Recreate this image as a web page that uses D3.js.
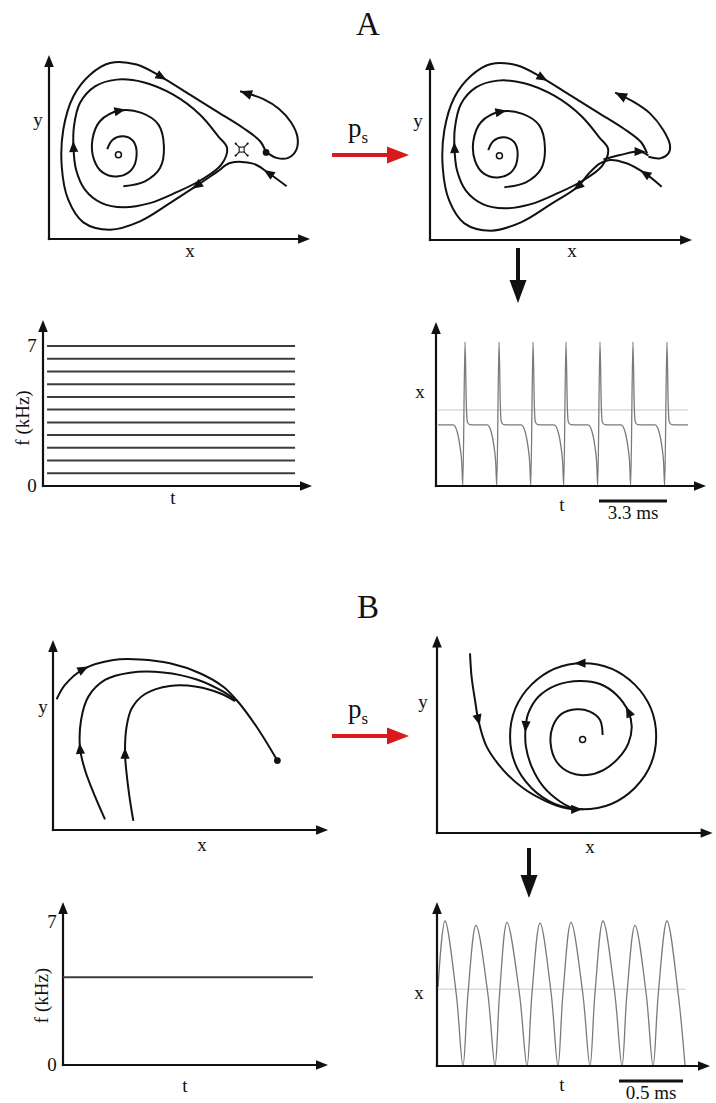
<!DOCTYPE html>
<html>
<head>
<meta charset="utf-8">
<script src="https://cdn.jsdelivr.net/npm/d3@7/dist/d3.min.js"></script>
<style>
  html, body { margin: 0; padding: 0; background: #fff; }
  svg { display: block; }
  text { font-family: "Liberation Serif", "Times New Roman", "DejaVu Serif", serif; fill: #111; }
</style>
</head>
<body>
<svg id="fig" width="716" height="1103" font-family="Liberation Serif, Times New Roman, serif"></svg>
<script>
// ================= Phase-plane trajectories (state-space units) =================
// Panel A: saddle-node on an invariant circle
const focusA  = [2.67, 3.24];
const saddleA = [7.41, 3.44];
const nodeA   = [8.35, 3.33];
const spiralA = [[2.24,3.46],[2.45,3.82],[2.86,3.95],[3.24,3.76],[3.37,3.24],[3.18,2.67],[2.67,2.41],
                 [2.06,2.56],[1.73,3.05],[1.67,3.82],[1.96,4.53],[2.73,4.94],[3.56,4.85],[4.21,4.40],
                 [4.42,3.56],[4.27,2.73],[3.69,2.22],[2.86,2.03]];
const loopA   = [[6.85,3.50],[6.62,2.85],[5.85,2.27],[4.91,1.80],[3.88,1.38],[2.86,1.22],[2.03,1.38],
                 [1.38,1.90],[1.04,2.67],[0.94,3.56],[0.96,4.33],[1.19,5.23],[1.77,5.87],[2.60,6.13],
                 [3.63,6.03],[4.78,5.55],[5.81,4.78],[6.51,3.95]];
const stableInA  = [[9.14,2.03],[8.44,2.54],[7.85,2.90],[6.96,2.92],[6.46,2.58]];
const outerBodyA = [[5.68,2.05],[4.65,1.38],[3.50,0.68],[2.35,0.36],[1.32,0.64],[0.74,1.51],[0.49,2.79],
                    [0.55,4.21],[0.94,5.49],[1.58,6.32],[2.35,6.77],[3.37,6.71],[4.33,6.23],[5.42,5.55],
                    [6.45,4.91],[7.47,4.27],[8.12,3.76],[8.35,3.33]];
const hookA   = [[8.37,3.33],[8.75,3.12],[9.20,3.12],[9.52,3.45],[9.55,3.95],[9.30,4.50],[8.85,5.00],
                 [8.25,5.38],[7.35,5.68]];
// after the bifurcation (p_s applied): the fixed points are gone
const stableInA2 = [[8.91,2.05],[8.27,2.56],[7.56,2.95],[6.92,3.08],[6.54,2.95],[6.10,2.55]];
const ghostA2    = [[6.67,3.10],[7.31,3.27],[8.08,3.40],[8.40,3.25]];
const hookA2     = [[8.40,3.20],[8.85,3.14],[9.17,3.33],[9.23,3.65],[8.97,4.23],[8.46,4.87],[7.82,5.32],
                    [7.12,5.67]];

// Panel B: stable node -> Hopf limit cycle
const nodeB   = [8.63, 2.67];
const trajB1  = [[0.14,5.03],[0.46,5.58],[1.17,6.19],[2.32,6.54],[3.35,6.56],[4.50,6.41],[5.65,6.03],
                 [6.55,5.51],[7.06,5.00],[7.83,3.97],[8.63,2.67]];
const trajB2  = [[2.00,0.41],[1.62,1.28],[1.23,2.31],[1.04,3.14],[1.08,4.23],[1.36,5.13],[2.00,5.77],
                 [2.96,6.05],[4.24,6.06],[5.53,5.79],[6.55,5.32],[7.06,4.97]];
const trajB3  = [[3.09,0.35],[2.96,1.15],[2.83,2.18],[2.77,2.95],[2.83,3.97],[3.03,4.68],[3.54,5.23],
                 [4.50,5.54],[5.53,5.51],[6.42,5.26],[7.00,4.96]];
const focusB  = [5.60, 3.60];
const cycleB  = { center: [5.62, 3.72], radius: 2.81 };
const cycleArrowsB = [[5.50, 6.53, -1, 0], [5.37, 0.91, 1, 0]];
const spiralB = [[6.37,3.77],[6.27,4.35],[5.88,4.67],[5.37,4.76],[4.79,4.58],[4.45,4.09],[4.37,3.45],
                 [4.60,2.74],[5.12,2.32],[5.76,2.23],[6.40,2.42],[6.97,2.87],[7.36,3.45],[7.49,4.09],
                 [7.36,4.67],[6.91,5.31],[6.27,5.73],[5.50,5.85],[4.60,5.69],[3.90,5.24],[3.51,4.60],
                 [3.41,4.09],[3.42,3.32],[3.64,2.55],[4.09,1.78],[4.73,1.21],[5.24,0.95],[5.62,0.91]];
const inflowB = [[1.27,6.91],[1.33,6.01],[1.46,5.12],[1.59,4.35],[1.91,3.32],[2.55,2.42],[3.32,1.72],
                 [4.22,1.21],[4.99,0.95],[5.50,0.91]];

// ================= Frequency content (kHz) =================
const freqTicks = [0, 7];
const freqA = [0.64, 1.27, 1.91, 2.55, 3.18, 3.82, 4.45, 5.09, 5.73, 6.36, 7.0];
const freqB = [4.3];

// ================= Time courses of x =================
// A: spiking (ms); one spike waveform as [offset from peak, x] and the peak times
const spikeTimesA = [1.41, 3.06, 4.71, 6.31, 7.96, 9.56, 11.21];
const spikeShapeA = [[-0.58,0.424],[-0.37,0.37],[-0.24,0.27],[-0.16,0.16],[-0.11,0.0],[0,1.0],
                     [0.065,0.55],[0.11,0.447],[0.23,0.426],[0.5,0.424]];
const traceSpanA = [0.1, 12.23];
const restA = 0.424, thresholdA = 0.528;
// B: oscillation (ms), samples [t, x] through peaks, flanks and troughs
const oscB = [[0.008,0.545],[0.0625,1.0],[0.150,0.5],[0.203,0],[0.242,0.5],[0.305,0.97],
              [0.397,0.5],[0.453,0],[0.489,0.5],[0.547,0.99],[0.644,0.5],[0.703,0],[0.742,0.5],
              [0.805,0.985],[0.892,0.5],[0.945,0],[0.984,0.5],[1.047,0.99],[1.139,0.5],[1.195,0],
              [1.234,0.5],[1.297,1.0],[1.389,0.5],[1.445,0],[1.484,0.5],[1.547,0.97],[1.634,0.5],
              [1.688,0],[1.729,0.5],[1.797,1.0],[1.884,0.5],[1.938,0]];
const thresholdB = 0.53;
const scaleBarA = { ms: 3.3, label: "3.3 ms" };
const scaleBarB = { ms: 0.5, label: "0.5 ms" };

// ================= drawing =================
const svg = d3.select("#fig");
const INK = "#111";

function head(g, tip, ang, len, hw, fill) {
  const c = Math.cos(ang), s = Math.sin(ang);
  const bx = tip[0] - c * len, by = tip[1] - s * len;
  g.append("path")
    .attr("d", `M${tip[0]},${tip[1]}L${bx - s * hw},${by + c * hw}L${bx + s * hw},${by - c * hw}Z`)
    .attr("fill", fill || INK);
}

function label(g, x, y, txt, size, anchor) {
  return g.append("text").attr("x", x).attr("y", y).attr("font-size", size || 19)
    .attr("text-anchor", anchor || "middle").text(txt);
}

function axes(g, x0, y0, x1, y1) {
  // x0,y0 = origin; x1 = x tip; y1 = y tip (pixels)
  g.append("line").attr("x1", x0).attr("y1", y0).attr("x2", x1 - 8).attr("y2", y0)
    .attr("stroke", INK).attr("stroke-width", 2.2).attr("stroke-linecap", "square");
  g.append("line").attr("x1", x0).attr("y1", y0).attr("x2", x0).attr("y2", y1 + 8)
    .attr("stroke", INK).attr("stroke-width", 2.2).attr("stroke-linecap", "square");
  head(g, [x1, y0], 0, 12, 4.8);
  head(g, [x0, y1], -Math.PI / 2, 12, 4.8);
}

function phasePanel(ox, oy, xMax, yMax) {
  const x = d3.scaleLinear().domain([0, 10]).range([ox, ox + 260]);
  const y = d3.scaleLinear().domain([0, 10]).range([oy, oy - 260]);
  const g = svg.append("g");
  axes(g, x(0), y(0), x(xMax), y(yMax));
  return { g, x, y };
}

function trajectory(p, pts, arrows, closed) {
  const line = d3.line().x(d => p.x(d[0])).y(d => p.y(d[1]))
    .curve(closed ? d3.curveCatmullRomClosed.alpha(0.5) : d3.curveCatmullRom.alpha(0.5));
  p.g.append("path").attr("d", line(pts)).attr("fill", "none")
    .attr("stroke", INK).attr("stroke-width", 2).attr("stroke-linejoin", "round");
  const n = pts.length;
  (arrows || []).forEach(i => {
    if (!closed && i === n - 1) {
      const a = pts[n - 2], b = pts[n - 1];
      const ang = Math.atan2(p.y(b[1]) - p.y(a[1]), p.x(b[0]) - p.x(a[0]));
      head(p.g, [p.x(b[0]), p.y(b[1])], ang, 12, 5);
      return;
    }
    const a = pts[(i - 1 + n) % n], b = pts[(i + 1) % n], c = pts[i];
    const ang = Math.atan2(p.y(b[1]) - p.y(a[1]), p.x(b[0]) - p.x(a[0]));
    const L = 11;
    head(p.g, [p.x(c[0]) + Math.cos(ang) * L / 2, p.y(c[1]) + Math.sin(ang) * L / 2], ang, L, 4.6);
  });
}

function openPoint(p, pt) {
  p.g.append("circle").attr("cx", p.x(pt[0])).attr("cy", p.y(pt[1])).attr("r", 3)
    .attr("fill", "#fff").attr("stroke", INK).attr("stroke-width", 1.5);
}
function filledPoint(p, pt) {
  p.g.append("circle").attr("cx", p.x(pt[0])).attr("cy", p.y(pt[1])).attr("r", 3.4).attr("fill", INK);
}
function saddleMark(p, pt) {
  const cx = p.x(pt[0]), cy = p.y(pt[1]);
  const g = p.g.append("g").attr("transform", `translate(${cx},${cy})`);
  g.append("rect").attr("x", -2.5).attr("y", -2.5).attr("width", 5).attr("height", 5)
    .attr("fill", "none").attr("stroke", INK).attr("stroke-width", 1.1);
  [[1, 1], [-1, -1], [1, -1], [-1, 1]].forEach(([sx, sy]) => {
    g.append("line").attr("x1", sx * 2.5).attr("y1", sy * 2.5).attr("x2", sx * 6).attr("y2", sy * 6)
      .attr("stroke", INK).attr("stroke-width", 1.1);
    g.append("circle").attr("cx", sx * 6).attr("cy", sy * 6).attr("r", 1.1).attr("fill", INK);
  });
}

function redArrow(x0, x1, yc, labelY) {
  const g = svg.append("g");
  g.append("line").attr("x1", x0).attr("y1", yc).attr("x2", x1 - 18).attr("y2", yc)
    .attr("stroke", "#d9191c").attr("stroke-width", 4.2);
  head(g, [x1, yc], 0, 22, 8.5, "#d9191c");
  const t = g.append("text").attr("x", 348).attr("y", labelY).attr("font-size", 27);
  t.append("tspan").text("p");
  t.append("tspan").attr("font-size", 17).attr("dy", 6).text("s");
}

function downArrow(xc, y0, y1) {
  const g = svg.append("g");
  g.append("line").attr("x1", xc).attr("y1", y0).attr("x2", xc).attr("y2", y1 - 20)
    .attr("stroke", INK).attr("stroke-width", 4);
  head(g, [xc, y1], Math.PI / 2, 23, 8.5);
}

// ---------- titles ----------
label(svg, 368, 35, "A", 33);
label(svg, 368, 618, "B", 33);

// ---------- A: phase portraits ----------
const pA1 = phasePanel(49, 239, 10.04, 7.08);
trajectory(pA1, spiralA, [11]);
trajectory(pA1, loopA, [9], true);
trajectory(pA1, stableInA.concat(outerBodyA), [1, 5, 17]);
trajectory(pA1, hookA, [hookA.length - 1]);
openPoint(pA1, focusA);
saddleMark(pA1, saddleA);
filledPoint(pA1, nodeA);
label(svg, 38, 126, "y", 19);
label(svg, 190, 257, "x", 19);

const pA2 = phasePanel(430, 240, 10.08, 7.0);
trajectory(pA2, spiralA, [11]);
trajectory(pA2, loopA, [9], true);
trajectory(pA2, stableInA2.concat(outerBodyA), [1, 6, 18]);
trajectory(pA2, ghostA2, [2]);
trajectory(pA2, hookA2, [hookA2.length - 1]);
openPoint(pA2, focusA);
label(svg, 418, 127, "y", 19);
label(svg, 572, 257, "x", 19);

redArrow(332, 409, 155, 137);
downArrow(518, 248, 303);

// ---------- B: phase portraits ----------
const pB1 = phasePanel(53, 830, 10.58, 7.31);
trajectory(pB1, trajB1, [2]);
trajectory(pB1, trajB2, [3]);
trajectory(pB1, trajB3, [3]);
filledPoint(pB1, nodeB);
label(svg, 43, 713, "y", 19);
label(svg, 202, 851, "x", 19);

const pB2 = phasePanel(437, 833, 10.6, 7.6);
pB2.g.append("circle")
  .attr("cx", pB2.x(cycleB.center[0])).attr("cy", pB2.y(cycleB.center[1]))
  .attr("r", pB2.x(cycleB.radius) - pB2.x(0))
  .attr("fill", "none").attr("stroke", INK).attr("stroke-width", 2);
cycleArrowsB.forEach(([u, v, du, dv]) => {
  const ang = Math.atan2(-dv, du);
  head(pB2.g, [pB2.x(u) + Math.cos(ang) * 5.5, pB2.y(v) + Math.sin(ang) * 5.5], ang, 11, 4.6);
});
trajectory(pB2, spiralB, [14, 21]);
trajectory(pB2, inflowB, [3]);
openPoint(pB2, focusB);
label(svg, 423, 708, "y", 19);
label(svg, 590, 853, "x", 19);

redArrow(332, 409, 736, 718);
downArrow(529, 848, 898);

// ---------- frequency panels ----------
function freqPanel(ox, oy, yTop, xTip, yTip, values, lineSpan, yLabelX, tLabel) {
  const g = svg.append("g");
  const t = d3.scaleLinear().domain([0, 1]).range([ox, xTip]);
  const f = d3.scaleLinear().domain([0, 7]).range([oy, yTop]);
  axes(g, ox, oy, xTip, yTip);
  g.selectAll("line.freq").data(values).join("line").attr("class", "freq")
    .attr("x1", t(lineSpan[0])).attr("x2", t(lineSpan[1]))
    .attr("y1", d => f(d)).attr("y2", d => f(d))
    .attr("stroke", "#3c3c3c").attr("stroke-width", 2);
  freqTicks.forEach(v => label(g, ox - 11, f(v) + 6, String(v), 19, "middle"));
  g.append("text").attr("transform", `translate(${yLabelX},${(oy + yTop) / 2 + 2}) rotate(-90)`)
    .attr("font-size", 19).attr("text-anchor", "middle").text("f (kHz)");
  label(g, tLabel[0], tLabel[1], "t", 19);
}
freqPanel(43, 486, 346, 312, 320, freqA, [0.015, 0.937], 29, [173, 504]);
freqPanel(63, 1065, 922, 328, 902, freqB, [0.0, 0.943], 48, [185, 1092]);

// ---------- time-course panels ----------
function tracePanel(ox, oy, xTip, yTip, tScale, xScale, pathData, curve, thr, thrSpan, bar, xl, tl, barY) {
  const g = svg.append("g");
  g.append("line").attr("x1", tScale(thrSpan[0])).attr("x2", tScale(thrSpan[1]))
    .attr("y1", xScale(thr)).attr("y2", xScale(thr))
    .attr("stroke", "#c8c8c8").attr("stroke-width", 1);
  g.append("path").attr("d", d3.line().x(d => tScale(d[0])).y(d => xScale(d[1])).curve(curve)(pathData))
    .attr("fill", "none").attr("stroke", "#7a7a7a").attr("stroke-width", 1.3);
  axes(g, ox, oy, xTip, yTip);
  label(g, xl[0], xl[1], "x", 19);
  label(g, tl[0], tl[1], "t", 19);
  const w = tScale(bar.ms) - tScale(0);
  g.append("line").attr("x1", bar.x0).attr("x2", bar.x0 + w)
    .attr("y1", barY).attr("y2", barY).attr("stroke", INK).attr("stroke-width", 3.2);
  label(g, bar.x0 + w / 2, barY + 18, bar.label, 19);
}

// A: spike train built from the waveform at each spike time
const traceA = [[traceSpanA[0], restA]];
spikeTimesA.forEach(ts => spikeShapeA.forEach(([dt, v]) => traceA.push([ts + dt, v])));
traceA.push([traceSpanA[1], restA]);
const tA = d3.scaleLinear().domain([0, 13]).range([436, 436 + 13 * 20.6]);
const xA = d3.scaleLinear().domain([0, 1]).range([486, 342]);
tracePanel(436, 486, 706, 322, tA, xA, traceA, d3.curveMonotoneX, thresholdA, traceSpanA,
  Object.assign({ x0: 599 }, scaleBarA), [420, 398], [562, 511], 501);

const tB = d3.scaleLinear().domain([0, 2.1]).range([437, 437 + 2.1 * 128]);
const xB = d3.scaleLinear().domain([0, 1]).range([1066, 921]);
tracePanel(437, 1066, 710, 902, tB, xB, oscB, d3.curveCatmullRom.alpha(0.5), thresholdB, [0.008, 1.94],
  Object.assign({ x0: 619 }, scaleBarB), [419, 999], [562, 1091], 1081);
</script>
</body>
</html>
